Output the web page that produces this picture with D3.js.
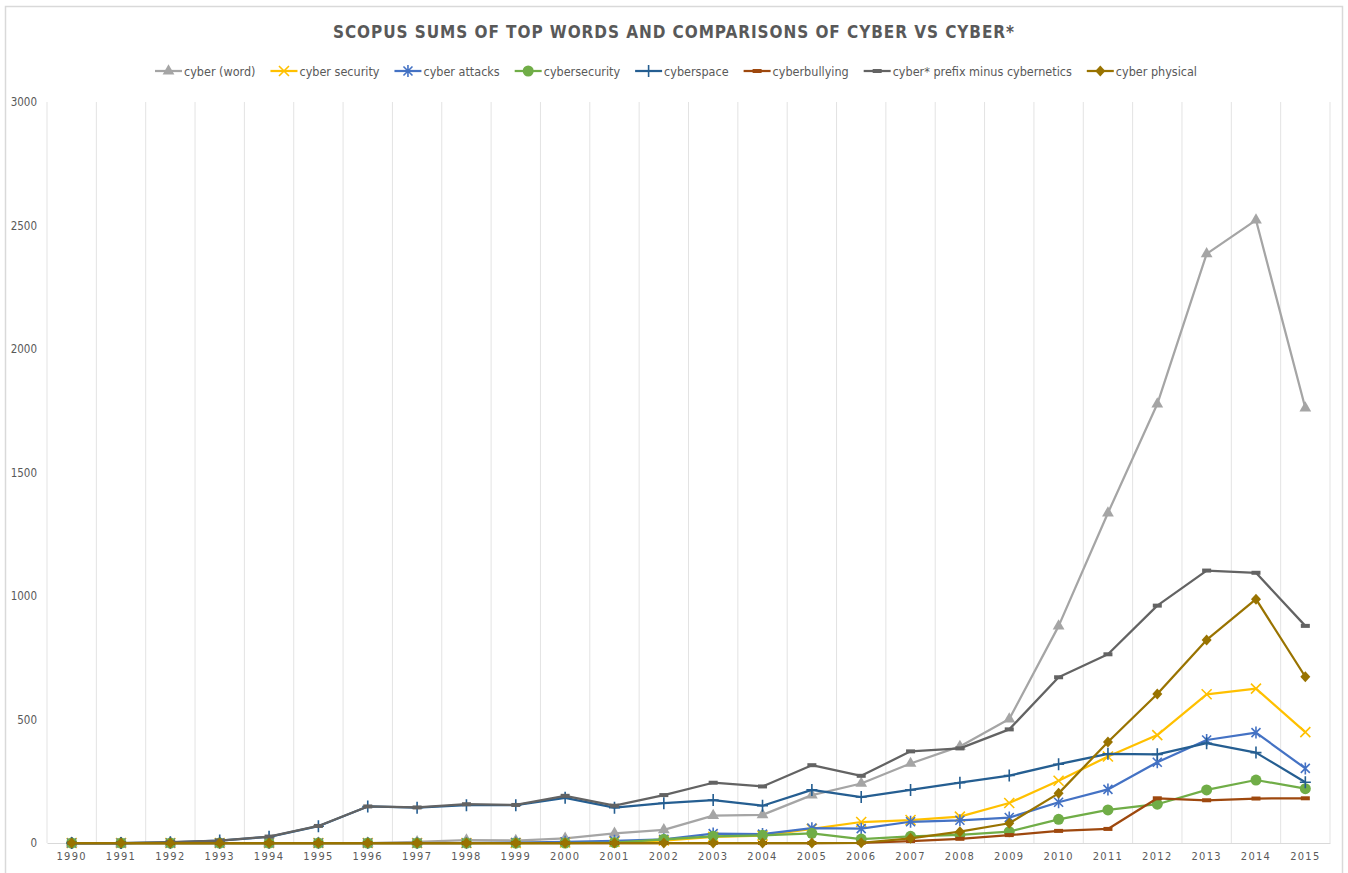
<!DOCTYPE html>
<html>
<head>
<meta charset="utf-8">
<script src="https://cdn.jsdelivr.net/npm/d3@7"></script>
<style>
  body { margin: 0; background: #fff; }
  svg text { font-family: "DejaVu Sans", sans-serif; font-stretch: condensed; fill: #595959; }
</style>
</head>
<body>
<div id="chart"></div>
<script>
// data
var years = ["1990","1991","1992","1993","1994","1995","1996","1997","1998","1999","2000","2001","2002",
  "2003","2004","2005","2006","2007","2008","2009","2010","2011","2012","2013","2014","2015"];
var yTicks = [0, 500, 1000, 1500, 2000, 2500, 3000];

var cyberWord = [0,0,0,0,0,0,0,5,12,10,19,39,53,111,114,194,241,322,391,502,878,1336,1777,2385,2522,1761];
var cyberSecurity = [0,0,0,0,0,0,0,0,0,0,2,5,10,25,30,57,85,93,107,162,252,350,437,602,625,449];
var cyberAttacks = [0,0,0,0,0,0,0,0,0,2,5,9,15,38,36,60,58,86,92,103,165,217,327,417,447,302];
var cybersecurity = [0,0,0,0,0,0,0,0,0,0,0,2,15,27,31,39,16,27,33,46,96,134,157,215,255,220];
var cyberspace = [0,0,3,10,25,68,148,143,153,153,183,143,161,174,151,215,186,215,244,273,319,361,359,404,366,246];
var cyberbullying = [0,0,0,0,0,0,0,0,0,0,0,0,0,0,0,0,1,8,17,32,49,57,181,173,180,181];
var cyberPrefix = [0,0,4,10,26,69,148,144,157,154,191,151,194,244,229,315,272,371,383,460,671,764,961,1103,1094,879];
var cyberPhysical = [0,0,0,0,0,0,0,0,0,0,0,0,0,0,0,0,1,19,46,80,201,409,603,822,987,673];

var seriesNames = ["cyber (word)", "cyber security", "cyber attacks", "cybersecurity", "cyberspace",
  "cyberbullying", "cyber* prefix minus cybernetics", "cyber physical"];
var seriesValues = [cyberWord, cyberSecurity, cyberAttacks, cybersecurity, cyberspace,
  cyberbullying, cyberPrefix, cyberPhysical];
var seriesColors = ["#a5a5a5", "#ffc000", "#4472c4", "#70ad47", "#255e91", "#9e480e", "#636363", "#997300"];
var seriesMarkers = ["triangle", "x", "asterisk", "circle", "plus", "dash", "dash", "diamond"];

var W = 1348, H = 873;
var svg = d3.select("#chart").append("svg").attr("width", W).attr("height", H);

// chart border
svg.append("rect").attr("x", 5.5).attr("y", 6.5).attr("width", 1337).attr("height", 880)
  .attr("fill", "none").attr("stroke", "#d9d9d9").attr("stroke-width", 1.5);

var margin = { left: 47, right: 1330, top: 102, bottom: 843 };

var xBand = d3.scaleBand().domain(years).range([margin.left, margin.right]);
var x = function (yr) { return xBand(yr) + xBand.bandwidth() / 2; };
var y = d3.scaleLinear().domain([0, 3000]).range([margin.bottom, margin.top]);

// vertical gridlines at category edges
var edges = years.map(function (d) { return xBand(d); }).concat([margin.right]);
svg.append("g").selectAll("line").data(edges).enter().append("line")
  .attr("x1", function (d) { return d; }).attr("x2", function (d) { return d; })
  .attr("y1", margin.top).attr("y2", margin.bottom)
  .attr("stroke", "#e3e3e3").attr("stroke-width", 1);

// x axis
var xAxis = d3.axisBottom(xBand).tickSize(0).tickPadding(9);
var gx = svg.append("g").attr("transform", "translate(0," + margin.bottom + ")").call(xAxis);
gx.select(".domain").attr("stroke", "#d9d9d9");
gx.selectAll("text").attr("font-size", 11).attr("letter-spacing", "1.3px").attr("fill", "#595959");

// y axis (labels only)
var yAxis = d3.axisLeft(y).tickValues(yTicks).tickSize(0).tickPadding(0).tickFormat(d3.format("d"));
var gy = svg.append("g").attr("transform", "translate(37,0)").call(yAxis);
gy.select(".domain").remove();
gy.selectAll("text").attr("font-size", 11.5).attr("fill", "#595959");

// title
svg.append("text").attr("x", 674).attr("y", 38).attr("text-anchor", "middle")
  .attr("font-size", 18).attr("font-weight", "bold").attr("letter-spacing", "1px")
  .attr("textLength", 682).attr("lengthAdjust", "spacingAndGlyphs")
  .text("SCOPUS SUMS OF TOP WORDS AND COMPARISONS OF CYBER VS CYBER*");

function drawMarker(g, type, color) {
  if (type === "triangle") {
    g.append("path").attr("d", d3.symbol(d3.symbolTriangle, 60)()).attr("fill", color);
  } else if (type === "circle") {
    g.append("circle").attr("r", 5.5).attr("fill", color);
  } else if (type === "diamond") {
    g.append("path").attr("d", "M0,-5.5L5,0L0,5.5L-5,0Z").attr("fill", color);
  } else if (type === "dash") {
    g.append("rect").attr("x", -4.5).attr("y", -2).attr("width", 9).attr("height", 4).attr("fill", color);
  } else if (type === "x") {
    g.append("path").attr("d", "M-5,-5L5,5M-5,5L5,-5").attr("stroke", color).attr("stroke-width", 1.6).attr("fill", "none");
  } else if (type === "asterisk") {
    g.append("path").attr("d", "M-4.5,-4.5L4.5,4.5M-4.5,4.5L4.5,-4.5M0,-6V6").attr("stroke", color).attr("stroke-width", 1.6).attr("fill", "none");
  } else if (type === "plus") {
    g.append("path").attr("d", "M-5.5,0H5.5M0,-6V6").attr("stroke", color).attr("stroke-width", 1.6).attr("fill", "none");
  }
}

var line = d3.line()
  .x(function (d, i) { return x(years[i]); })
  .y(function (d) { return y(d); });

seriesValues.forEach(function (vals, s) {
  var g = svg.append("g");
  g.append("path").datum(vals).attr("d", line)
    .attr("fill", "none").attr("stroke", seriesColors[s]).attr("stroke-width", 2.25)
    .attr("stroke-linejoin", "round");
  vals.forEach(function (v, i) {
    var m = g.append("g").attr("transform", "translate(" + x(years[i]) + "," + y(v) + ")");
    drawMarker(m, seriesMarkers[s], seriesColors[s]);
  });
});

// legend: measure items then spread them between 155 and 1197
var legend = svg.append("g");
var items = seriesNames.map(function (name, s) {
  var g = legend.append("g");
  g.append("line").attr("x1", 0).attr("x2", 27).attr("y1", 0).attr("y2", 0)
    .attr("stroke", seriesColors[s]).attr("stroke-width", 2.25);
  var m = g.append("g").attr("transform", "translate(13.5,0)");
  drawMarker(m, seriesMarkers[s], seriesColors[s]);
  var t = g.append("text").attr("x", 29).attr("y", 4.5).attr("font-size", 12.5).text(name);
  return { g: g, w: 29 + t.node().getComputedTextLength() };
});
var total = d3.sum(items, function (d) { return d.w; });
var gap = (1197 - 155 - total) / (items.length - 1);
var cx = 155;
items.forEach(function (it) {
  it.g.attr("transform", "translate(" + cx + ",71)");
  cx += it.w + gap;
});
</script>
</body>
</html>
